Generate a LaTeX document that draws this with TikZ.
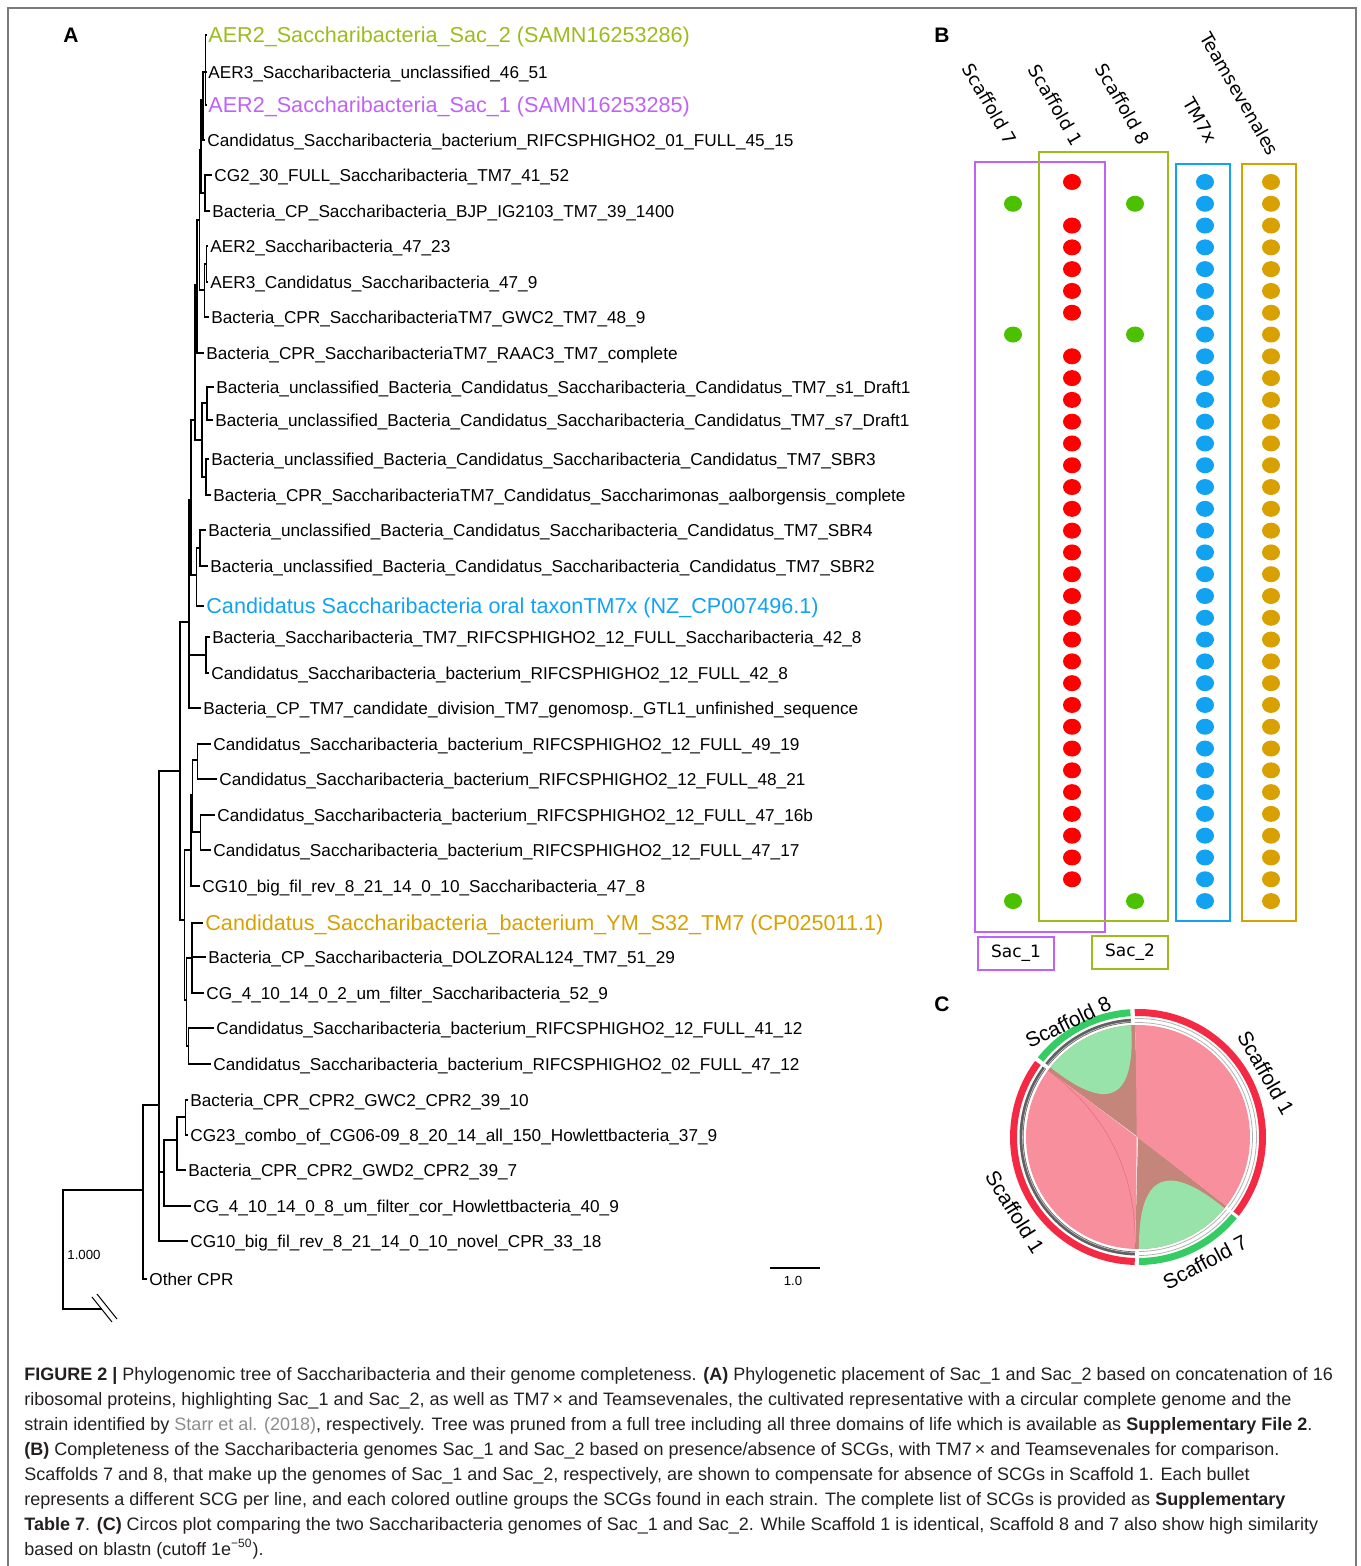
\documentclass[tikz,border=0pt]{standalone}
\usepackage{fontspec}
\setmainfont{Liberation Sans}
\newfontfamily\dejavu{DejaVu Sans}
\newfontfamily\capfont{Liberation Sans}
\usetikzlibrary{calc}
\definecolor{sactwo}{HTML}{9CBC1C}
\definecolor{sacone}{HTML}{C062FA}
\definecolor{tmblue}{HTML}{12A2F2}
\definecolor{teamor}{HTML}{D8A000}
\definecolor{dotred}{HTML}{FF0000}
\definecolor{dotgreen}{HTML}{4CC100}
\definecolor{ringred}{HTML}{F42A45}
\definecolor{ringgreen}{HTML}{34CC63}
\definecolor{chordpink}{HTML}{F7909C}
\definecolor{chordgreen}{HTML}{97E3AA}
\definecolor{chordbrown}{HTML}{C4867A}
\definecolor{framegray}{HTML}{7A7A7A}
\definecolor{captext}{HTML}{231F20}
\definecolor{citegray}{HTML}{8C8C8C}
\tikzset{
  branch/.style={line width=0.75pt},
  leaf/.style={anchor=west, inner sep=1pt, font=\fontsize{8.6}{10}\selectfont, text height=6.2pt, text depth=0pt},
  hilite/.style={leaf, font=\fontsize{10.8}{12}\selectfont, text height=7.8pt},
  panel/.style={font=\bfseries\fontsize{10.5}{12}\selectfont, inner sep=0pt},
  collabel/.style={font=\dejavu\fontsize{9}{10}\selectfont, rotate=-60, inner sep=0pt},
  scgbox/.style={line width=1pt},
  sacbox/.style={draw, line width=1pt, minimum width=38pt, minimum height=16.5pt, inner sep=0pt, font=\dejavu\fontsize{8.5}{10}\selectfont},
  arclabel/.style={font=\fontsize{10.4}{12}\selectfont, inner sep=0pt},
  caption/.style={anchor=north west, inner sep=0pt, align=left, text=captext, font=\capfont\fontsize{9}{12.5}\selectfont}
}
\begin{document}
\begin{tikzpicture}[x=0.5pt, y=-0.5pt]
\useasboundingbox (0,0) rectangle (1360,1566);
\draw[framegray, line width=1pt] (8,1566) |- (1356,8) -- (1356,1566);
\node[panel] (pa) at (71,35) {A};
\node[panel] (pb) at (942,35) {B};
\node[panel] (pc) at (942,1004) {C};

\node[hilite, text=sactwo] (l1) at (206,35) {AER2\_Saccharibacteria\_Sac\_2 (SAMN16253286)};
\node[leaf] (l2) at (206,72) {AER3\_Saccharibacteria\_unclassified\_46\_51};
\node[hilite, text=sacone] (l3) at (206,105) {AER2\_Saccharibacteria\_Sac\_1 (SAMN16253285)};
\node[leaf] (l4) at (205,140) {Candidatus\_Saccharibacteria\_bacterium\_RIFCSPHIGHO2\_01\_FULL\_45\_15};
\node[leaf] (l5) at (212,175) {CG2\_30\_FULL\_Saccharibacteria\_TM7\_41\_52};
\node[leaf] (l6) at (210,211) {Bacteria\_CP\_Saccharibacteria\_BJP\_IG2103\_TM7\_39\_1400};
\node[leaf] (l7) at (208,246) {AER2\_Saccharibacteria\_47\_23};
\node[leaf] (l8) at (208,282) {AER3\_Candidatus\_Saccharibacteria\_47\_9};
\node[leaf] (l9) at (209,317) {Bacteria\_CPR\_SaccharibacteriaTM7\_GWC2\_TM7\_48\_9};
\node[leaf] (l10) at (204,353) {Bacteria\_CPR\_SaccharibacteriaTM7\_RAAC3\_TM7\_complete};
\node[leaf] (l11) at (214,387) {Bacteria\_unclassified\_Bacteria\_Candidatus\_Saccharibacteria\_Candidatus\_TM7\_s1\_Draft1};
\node[leaf] (l12) at (213,420) {Bacteria\_unclassified\_Bacteria\_Candidatus\_Saccharibacteria\_Candidatus\_TM7\_s7\_Draft1};
\node[leaf] (l13) at (209,459) {Bacteria\_unclassified\_Bacteria\_Candidatus\_Saccharibacteria\_Candidatus\_TM7\_SBR3};
\node[leaf] (l14) at (211,495) {Bacteria\_CPR\_SaccharibacteriaTM7\_Candidatus\_Saccharimonas\_aalborgensis\_complete};
\node[leaf] (l15) at (206,530) {Bacteria\_unclassified\_Bacteria\_Candidatus\_Saccharibacteria\_Candidatus\_TM7\_SBR4};
\node[leaf] (l16) at (208,566) {Bacteria\_unclassified\_Bacteria\_Candidatus\_Saccharibacteria\_Candidatus\_TM7\_SBR2};
\node[hilite, text=tmblue] (l17) at (204,606) {Candidatus Saccharibacteria oral taxonTM7x (NZ\_CP007496.1)};
\node[leaf] (l18) at (210,637) {Bacteria\_Saccharibacteria\_TM7\_RIFCSPHIGHO2\_12\_FULL\_Saccharibacteria\_42\_8};
\node[leaf] (l19) at (209,673) {Candidatus\_Saccharibacteria\_bacterium\_RIFCSPHIGHO2\_12\_FULL\_42\_8};
\node[leaf] (l20) at (201,708) {Bacteria\_CP\_TM7\_candidate\_division\_TM7\_genomosp.\_GTL1\_unfinished\_sequence};
\node[leaf] (l21) at (211,744) {Candidatus\_Saccharibacteria\_bacterium\_RIFCSPHIGHO2\_12\_FULL\_49\_19};
\node[leaf] (l22) at (217,779) {Candidatus\_Saccharibacteria\_bacterium\_RIFCSPHIGHO2\_12\_FULL\_48\_21};
\node[leaf] (l23) at (215,815) {Candidatus\_Saccharibacteria\_bacterium\_RIFCSPHIGHO2\_12\_FULL\_47\_16b};
\node[leaf] (l24) at (211,850) {Candidatus\_Saccharibacteria\_bacterium\_RIFCSPHIGHO2\_12\_FULL\_47\_17};
\node[leaf] (l25) at (200,886) {CG10\_big\_fil\_rev\_8\_21\_14\_0\_10\_Saccharibacteria\_47\_8};
\node[hilite, text=teamor] (l26) at (203,923) {Candidatus\_Saccharibacteria\_bacterium\_YM\_S32\_TM7 (CP025011.1)};
\node[leaf] (l27) at (206,957) {Bacteria\_CP\_Saccharibacteria\_DOLZORAL124\_TM7\_51\_29};
\node[leaf] (l28) at (204,993) {CG\_4\_10\_14\_0\_2\_um\_filter\_Saccharibacteria\_52\_9};
\node[leaf] (l29) at (214,1028) {Candidatus\_Saccharibacteria\_bacterium\_RIFCSPHIGHO2\_12\_FULL\_41\_12};
\node[leaf] (l30) at (211,1064) {Candidatus\_Saccharibacteria\_bacterium\_RIFCSPHIGHO2\_02\_FULL\_47\_12};
\node[leaf] (l31) at (188,1100) {Bacteria\_CPR\_CPR2\_GWC2\_CPR2\_39\_10};
\node[leaf] (l32) at (188,1135) {CG23\_combo\_of\_CG06-09\_8\_20\_14\_all\_150\_Howlettbacteria\_37\_9};
\node[leaf] (l33) at (186,1170) {Bacteria\_CPR\_CPR2\_GWD2\_CPR2\_39\_7};
\node[leaf] (l34) at (191,1206) {CG\_4\_10\_14\_0\_8\_um\_filter\_cor\_Howlettbacteria\_40\_9};
\node[leaf] (l35) at (188,1241) {CG10\_big\_fil\_rev\_8\_21\_14\_0\_10\_novel\_CPR\_33\_18};
\node[leaf] (l36) at (147,1279) {Other CPR};

\coordinate (a1) at (205.5,72);  \coordinate (a2) at (203,100);
\coordinate (a3) at (205,193);   \coordinate (a4) at (201,150);
\coordinate (a5) at (206.5,264); \coordinate (a6) at (204.5,290);
\coordinate (a7) at (199.5,220); \coordinate (a8) at (197,285);
\coordinate (a9) at (195,420);
\coordinate (b1) at (207,403);   \coordinate (b2) at (206,477);
\coordinate (b3) at (202,440);   \coordinate (b4) at (200,548);
\coordinate (b6) at (196.5,575); \coordinate (c1) at (191,500);
\coordinate (d1) at (206,655);   \coordinate (ct) at (189,622);
\coordinate (e1) at (197.7,760); \coordinate (e2) at (200.7,832);
\coordinate (e3) at (192.7,795); \coordinate (e4) at (191,850);
\coordinate (f1) at (192,958);   \coordinate (f2) at (188.5,1046);
\coordinate (f3) at (186.7,1000);\coordinate (cu) at (184.5,920);
\coordinate (cs) at (180,771);
\coordinate (g1) at (185.7,1117);\coordinate (g2) at (177,1140);
\coordinate (g3) at (164,1172);  \coordinate (cq) at (159,1105);
\coordinate (cp) at (143,1190);  \coordinate (root) at (63,1250);
\coordinate (stub) at (102,1309);
\foreach \p/\c in {a1/l1,a1/l2,a1/l3,a2/a1,a2/l4,a3/l5,a3/l6,a4/a2,a4/a3,a5/l7,a5/l8,a6/a5,a6/l9,
  a7/a4,a7/a6,a8/a7,a8/l10,b1/l11,b1/l12,b2/l13,b2/l14,b3/b1,b3/b2,a9/a8,a9/b3,b4/l15,b4/l16,
  b6/b4,b6/l17,c1/a9,c1/b6,d1/l18,d1/l19,ct/c1,ct/d1,ct/l20,e1/l21,e1/l22,e2/l23,e2/l24,e3/e1,
  e3/e2,e4/e3,e4/l25,f1/l26,f1/l27,f1/l28,f2/l29,f2/l30,f3/f1,f3/f2,cu/e4,cu/f3,cs/ct,cs/cu,
  g1/l31,g1/l32,g2/g1,g2/l33,g3/g2,g3/l34,cq/cs,cq/g3,cq/l35,cp/cq,cp/l36,root/cp,root/stub}
  \draw[branch] (\p) |- (\c);
\draw[line width=0.5pt] (92,1297) -- (112,1322) (97,1294) -- (117,1319);
\node[font=\fontsize{6.6}{8}\selectfont] (bs) at (84,1255) {1.000};
\coordinate (sb1) at (770,1268); \coordinate (sb2) at (820,1268);
\draw[branch] (sb1) -- (sb2);
\node[font=\fontsize{6.6}{8}\selectfont] (sbl) at (793,1281) {1.0};

\node[collabel] (hs7) at (990,104) {Scaffold 7};
\node[collabel] (hs1) at (1056,105) {Scaffold 1};
\node[collabel] (hs8) at (1123,104) {Scaffold 8};
\node[collabel] (htm) at (1200,120) {TM7x};
\node[collabel] (hts) at (1240,94) {Teamsevenales};
\draw[scgbox, sacone] (975,162) rectangle (1105,932);
\draw[scgbox, sactwo] (1039,152) rectangle (1168,921);
\draw[scgbox, tmblue] (1176,164) rectangle (1230,921);
\draw[scgbox, teamor] (1242,164) rectangle (1296,921);
\foreach \i in {1,...,34}{
  \pgfmathsetmacro\yy{182+(\i-1)*21.79}
  \fill[tmblue] (1205,\yy) ellipse [x radius=9, y radius=8];
  \fill[teamor] (1271,\yy) ellipse [x radius=9, y radius=8];
}
\foreach \i in {1,3,4,...,7,9,10,...,33}{
  \pgfmathsetmacro\yy{182+(\i-1)*21.79}
  \fill[dotred] (1072,\yy) ellipse [x radius=9, y radius=8];
}
\foreach \i in {2,8,34}{
  \pgfmathsetmacro\yy{182+(\i-1)*21.79}
  \fill[dotgreen] (1013,\yy) ellipse [x radius=9, y radius=8];
  \fill[dotgreen] (1135,\yy) ellipse [x radius=9, y radius=8];
}
\node[sacbox, draw=sacone] (sac1) at (1016,953.5) {Sac\_1};
\node[sacbox, draw=sactwo] (sac2) at (1130,952.5) {Sac\_2};

\begin{scope}[shift={(1138,1137)}, y=0.5pt]
\fill[chordbrown] (0,0) -- (91.5:112) arc [start angle=91.5, end angle=143.5, radius=112] -- cycle;
\fill[chordbrown] (0,0) -- (268.5:112) arc [start angle=268.5, end angle=322, radius=112] -- cycle;
\fill[chordpink] (-38:112) arc [start angle=-38, end angle=91.5, radius=112]
  .. controls ($(91.5:112)!2/3!(0,0)$) and ($(268.5:112)!2/3!(0,0)$) .. (268.5:112)
  arc [start angle=268.5, end angle=143.5, radius=112]
  .. controls ($(143.5:112)!2/3!(0,0)$) and ($(-38:112)!2/3!(0,0)$) .. (-38:112);
\fill[chordgreen] (93.5:112) arc [start angle=93.5, end angle=141.5, radius=112]
  .. controls ($(141.5:112)!2/3!(0,0)$) and ($(93.5:112)!2/3!(0,0)$) .. (93.5:112);
\fill[chordgreen] (270.5:112) arc [start angle=270.5, end angle=320.5, radius=112]
  .. controls ($(320.5:112)!2/3!(0,0)$) and ($(270.5:112)!2/3!(0,0)$) .. (270.5:112);
\draw[purple!60!pink, opacity=0.5, line width=0.3pt] (143.5:112)
  .. controls ($(143.5:112)!2/3!(0,0)$) and ($(268.5:112)!2/3!(0,0)$) .. (268.5:112);
\foreach \a/\b/\c in {-38/91.5/ringred, 93.5/141.5/ringgreen, 143.5/268.5/ringred, 270.5/320.5/ringgreen}
  \fill[\c] (\a:121) arc [start angle=\a, end angle=\b, radius=121] -- (\b:128)
    arc [start angle=\b, end angle=\a, radius=128] -- cycle;
\foreach \a/\b in {93.5/141.5, 143.5/268.5}{
  \draw[gray!75!black, line width=2pt] (\a:116.5) arc [start angle=\a, end angle=\b, radius=116.5];
  \draw[gray!40, line width=0.3pt] (\a:115.5) arc [start angle=\a, end angle=\b, radius=115.5];
}
\foreach \a/\b in {-38/91.5, 270.5/320.5}{
  \draw[gray!60, line width=0.4pt] (\a:114.5) arc [start angle=\a, end angle=\b, radius=114.5];
  \draw[gray!60, line width=0.4pt] (\a:118.5) arc [start angle=\a, end angle=\b, radius=118.5];
}
\end{scope}
\node[arclabel, rotate=26] (c8) at (1068,1022) {Scaffold 8};
\node[arclabel, rotate=-60] (c1r) at (1266,1073) {Scaffold 1};
\node[arclabel, rotate=-58] (c1l) at (1015,1212) {Scaffold 1};
\node[arclabel, rotate=28] (c7) at (1205,1262) {Scaffold 7};

\node[caption] (cap) at (24,1367) {\textbf{FIGURE 2 |} Phylogenomic tree of Saccharibacteria and their genome completeness. \textbf{(A)} Phylogenetic placement of Sac\_1 and Sac\_2 based on concatenation of 16\\
ribosomal proteins, highlighting Sac\_1 and Sac\_2, as well as TM7\,× and Teamsevenales, the cultivated representative with a circular complete genome and the\\
strain identified by \textcolor{citegray}{Starr et al. (2018)}, respectively. Tree was pruned from a full tree including all three domains of life which is available as \textbf{Supplementary File 2}.\\
\textbf{(B)} Completeness of the Saccharibacteria genomes Sac\_1 and Sac\_2 based on presence/absence of SCGs, with TM7\,× and Teamsevenales for comparison.\\
Scaffolds 7 and 8, that make up the genomes of Sac\_1 and Sac\_2, respectively, are shown to compensate for absence of SCGs in Scaffold 1. Each bullet\\
represents a different SCG per line, and each colored outline groups the SCGs found in each strain. The complete list of SCGs is provided as \textbf{Supplementary}\\
\textbf{Table 7}. \textbf{(C)} Circos plot comparing the two Saccharibacteria genomes of Sac\_1 and Sac\_2. While Scaffold 1 is identical, Scaffold 8 and 7 also show high similarity\\
based on blastn (cutoff 1e\textsuperscript{−50}).};
\end{tikzpicture}
\end{document}
